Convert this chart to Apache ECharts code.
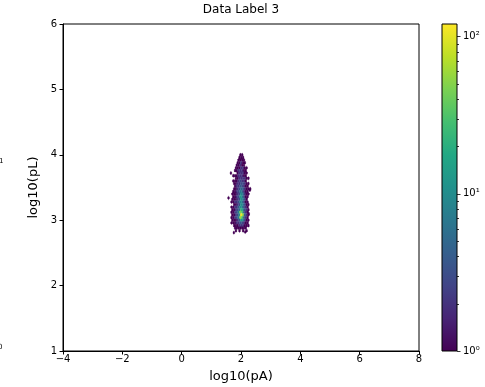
<!DOCTYPE html>
<html>
<head>
<meta charset="utf-8">
<script src="https://cdn.jsdelivr.net/npm/echarts@6/dist/echarts.min.js"></script>
<style>
  html, body { margin: 0; padding: 0; background: #fff; }
  #chart { width: 485px; height: 387px; }
</style>
</head>
<body>
<div id="chart"></div>
<script>
// Hexbin density of log10(pL) against log10(pA).
// Column centres (log10 pA) and row centres (log10 pL) of the hex grid;
// odd rows are shifted right by half a column, as in a hexbin layout.
const colX = [1.62, 1.68, 1.74, 1.80, 1.86, 1.92, 1.98, 2.04, 2.10, 2.16, 2.22, 2.28];
const rowY = [4.00, 3.96, 3.92, 3.88, 3.84, 3.80, 3.76, 3.72, 3.68, 3.64,
              3.60, 3.56, 3.52, 3.48, 3.44, 3.40, 3.36, 3.32, 3.28, 3.24,
              3.20, 3.16, 3.12, 3.08, 3.04, 3.00, 2.96, 2.92, 2.88, 2.84];
// Counts per hex, one row per entry of rowY (0 = empty hex, not drawn).
const counts = [
  [0,0,0,0,0,0,1,1,0,0,0,0],
  [0,0,0,0,0,1,1,1,0,0,0,0],
  [0,0,0,0,0,1,1,1,1,0,0,0],
  [0,0,0,0,1,1,2,1,1,0,0,0],
  [0,0,0,0,1,1,2,1,1,0,0,0],
  [0,0,0,1,1,1,2,2,1,1,0,0],
  [0,0,0,1,1,2,2,2,1,1,0,0],
  [0,0,0,0,1,2,2,2,1,1,0,0],
  [0,0,1,1,1,2,2,2,1,1,0,0],
  [0,0,0,1,1,2,2,2,2,1,1,0],
  [0,0,1,1,1,2,3,2,2,1,0,0],
  [0,0,1,1,2,2,3,3,2,1,1,0],
  [0,0,0,1,2,2,4,3,2,1,1,0],
  [0,0,1,1,2,3,5,4,2,1,1,1],
  [0,0,1,1,2,3,7,5,2,1,1,0],
  [0,1,1,1,2,3,10,6,2,1,1,0],
  [0,0,1,1,2,3,14,8,3,1,1,0],
  [0,1,1,1,2,3,12,7,3,1,0,0],
  [0,1,1,2,2,3,10,7,3,1,1,0],
  [0,0,1,1,2,3,11,7,3,1,1,0],
  [0,1,1,2,2,4,12,8,3,2,1,0],
  [0,1,1,2,3,5,22,10,3,2,1,0],
  [0,1,1,2,3,7,50,30,4,2,1,0],
  [0,1,1,2,3,9,118,55,4,2,1,0],
  [0,1,1,2,3,7,60,30,4,2,1,0],
  [0,1,1,1,2,4,14,9,3,1,1,0],
  [0,1,1,1,2,2,4,3,2,1,1,0],
  [0,0,1,1,1,2,2,2,1,1,1,0],
  [0,0,0,1,1,1,1,1,1,1,0,0],
  [0,0,0,1,0,1,0,1,0,1,0,0]
];
// Isolated single-count hexes around the cloud.
const strayX = [1.58, 2.30, 1.66, 2.26, 1.76, 2.14];
const strayY = [3.34, 3.46, 3.72, 3.10, 2.81, 2.82];

// Colour bar range and labels.
const cbarMin = 1;
const cbarMax = 120;
const cbarMajor = [1, 10, 100];
const cbarLabels = ['10\u2070', '10\u00b9', '10\u00b2'];

// Axis ranges and titles.
const xRange = [-4, 8];
const yRange = [1, 6];
const xTitle = 'log10(pA)';
const yTitle = 'log10(pL)';
const chartTitle = 'Data Label 3';

const HEX_DX = 0.06;
const HEX_DY = 0.04;

const viridis = ['#440154', '#482475', '#414487', '#355f8d', '#2a788e',
                 '#21918c', '#22a884', '#44bf70', '#7ad151', '#bddf26', '#fde725'];

// Build [x, y, count, log10(count)] items for the hex series.
const hexData = [];
rowY.forEach((y, r) => {
  counts[r].forEach((c, i) => {
    if (c > 0) {
      const x = colX[i] + (r % 2 ? HEX_DX / 2 : 0);
      hexData.push([x, y, c, Math.log10(c)]);
    }
  });
});
strayX.forEach((x, k) => hexData.push([x, strayY[k], 1, 0]));

// Colour-bar tick marks: decades plus 2..9 minor ticks inside the range.
const cbarTicks = [];
cbarMajor.forEach(v => cbarTicks.push([1, v, 1]));
for (let d = 0; d < 3; d++) {
  for (let k = 2; k <= 9; k++) {
    const v = k * Math.pow(10, d);
    if (v < cbarMax) cbarTicks.push([1, v, 0]);
  }
}

const minus = v => String(v).replace('-', '\u2212');

function renderHex(params, api) {
  const c = api.coord([api.value(0), api.value(1)]);
  const s = api.size([HEX_DX, HEX_DY]);
  const w = s[0], h = s[1] * 4 / 3;
  const color = api.visual('color');
  return {
    type: 'polygon',
    shape: {
      points: [
        [c[0], c[1] - h / 2], [c[0] + w / 2, c[1] - h / 4], [c[0] + w / 2, c[1] + h / 4],
        [c[0], c[1] + h / 2], [c[0] - w / 2, c[1] + h / 4], [c[0] - w / 2, c[1] - h / 4]
      ]
    },
    style: { fill: color, stroke: color, lineWidth: 0.3 }
  };
}

function renderBar(params, api) {
  const p0 = api.coord([0, cbarMax]);
  const p1 = api.coord([1, cbarMin]);
  const stops = viridis.map((col, i) => ({ offset: i / (viridis.length - 1), color: col }));
  return {
    type: 'rect',
    shape: { x: p0[0], y: p0[1], width: p1[0] - p0[0], height: p1[1] - p0[1] },
    style: {
      fill: new echarts.graphic.LinearGradient(0, 1, 0, 0, stops),
      stroke: '#000',
      lineWidth: 1
    }
  };
}

function renderTick(params, api) {
  const p = api.coord([1, api.value(1)]);
  const len = api.value(2) ? 3.5 : 2;
  const y = Math.round(p[1]) + 0.5;
  return {
    type: 'line',
    shape: { x1: p[0], y1: y, x2: p[0] + len, y2: y },
    style: { stroke: '#000', lineWidth: 0.8 }
  };
}

const chart = echarts.init(document.getElementById('chart'), null, { renderer: 'canvas' });
const font = 'DejaVu Sans';

chart.setOption({
  animation: false,
  backgroundColor: '#fff',
  textStyle: { fontFamily: font, color: '#000' },
  title: {
    text: chartTitle,
    left: 241, top: 4, padding: 0,
    textAlign: 'center',
    textStyle: { fontSize: 12, fontWeight: 'normal', color: '#000', fontFamily: font }
  },
  grid: [
    { left: 63, top: 24, width: 356, height: 327, show: true, borderColor: '#000', borderWidth: 1, backgroundColor: 'transparent', outerBoundsMode: 'none' },
    { left: 442, top: 24, width: 15, height: 327, show: false, outerBoundsMode: 'none' }
  ],
  xAxis: [
    {
      type: 'value', gridIndex: 0, min: xRange[0], max: xRange[1], interval: 2,
      splitLine: { show: false },
      axisLine: { onZero: false, lineStyle: { color: '#000', width: 1 } },
      axisTick: { length: 3.5, lineStyle: { color: '#000' } },
      axisLabel: { fontSize: 10, color: '#000', margin: 3, fontFamily: font, formatter: minus },
      name: xTitle, nameLocation: 'middle', nameGap: 19,
      nameTextStyle: { fontSize: 13, color: '#000', fontFamily: font }
    },
    { type: 'value', gridIndex: 1, min: 0, max: 1, show: false }
  ],
  yAxis: [
    {
      type: 'value', gridIndex: 0, min: yRange[0], max: yRange[1], interval: 1,
      splitLine: { show: false },
      axisLine: { onZero: false, lineStyle: { color: '#000', width: 1 } },
      axisTick: { length: 3.5, lineStyle: { color: '#000' } },
      axisLabel: { fontSize: 10, color: '#000', margin: 6, fontFamily: font, formatter: minus },
      name: yTitle, nameLocation: 'middle', nameGap: 18, nameRotate: 90,
      nameTextStyle: { fontSize: 13, color: '#000', fontFamily: font }
    },
    {
      type: 'log', logBase: 10, gridIndex: 1, min: cbarMin, max: cbarMax, position: 'right',
      splitLine: { show: false },
      axisLine: { show: false },
      axisTick: { show: false },
      axisLabel: {
        fontSize: 10, color: '#000', margin: 6, fontFamily: font,
        formatter: v => {
          const i = cbarMajor.findIndex(m => Math.abs(m - v) < 1e-6 * m);
          return i >= 0 ? cbarLabels[i] : '';
        }
      }
    }
  ],
  visualMap: {
    show: false, type: 'continuous', seriesIndex: 0, dimension: 3,
    min: 0, max: Math.log10(cbarMax),
    inRange: { color: viridis }
  },
  series: [
    {
      type: 'custom', xAxisIndex: 0, yAxisIndex: 0, renderItem: renderHex,
      encode: { x: 0, y: 1 }, data: hexData, z: 2
    },
    {
      type: 'custom', xAxisIndex: 1, yAxisIndex: 1, renderItem: renderBar,
      encode: { x: 0, y: 1 }, data: [[0, cbarMin]], clip: false, z: 2
    },
    {
      type: 'custom', xAxisIndex: 1, yAxisIndex: 1, renderItem: renderTick,
      encode: { x: 0, y: 1 }, data: cbarTicks, clip: false, z: 3
    }
  ],
  graphic: [
    // exponents of a neighbouring colour bar's labels, cut at the edge
    { type: 'text', x: -1, y: 158, style: { text: '1', font: '7px DejaVu Sans', fill: '#000' } },
    { type: 'text', x: -2, y: 344, style: { text: '0', font: '7px DejaVu Sans', fill: '#000' } }
  ]
});
</script>
</body>
</html>
